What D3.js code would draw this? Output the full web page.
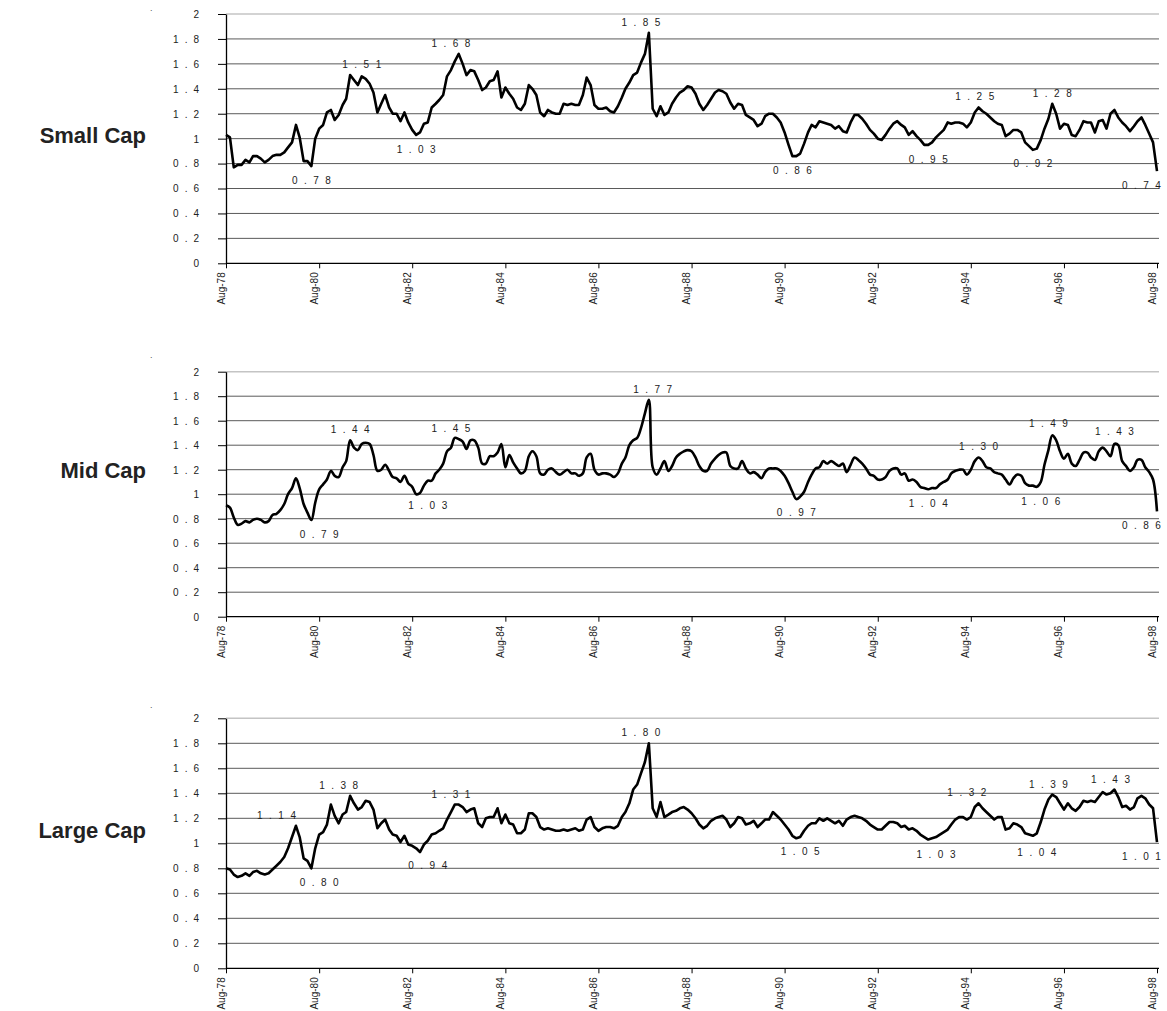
<!DOCTYPE html>
<html><head><meta charset="utf-8">
<script src="https://cdn.jsdelivr.net/npm/d3@7"></script>
<style>body{margin:0;background:#fff}svg{display:block}</style>
</head><body>
<svg id="c" width="1167" height="1011"></svg>
<script>
// ---- DATA (monthly, Aug-78 .. Aug-98) ----
const smallCap = [
1.03,1.01,0.77,0.79,0.79,0.83,0.81,0.86,0.86,0.84,0.81,0.83,
0.86,0.87,0.87,0.89,0.93,0.97,1.11,1.01,0.82,0.82,0.78,1.00,
1.08,1.11,1.21,1.23,1.15,1.19,1.27,1.32,1.51,1.47,1.43,1.50,
1.48,1.44,1.37,1.21,1.28,1.35,1.25,1.20,1.20,1.14,1.21,1.13,
1.07,1.03,1.05,1.12,1.13,1.25,1.28,1.31,1.35,1.50,1.55,1.62,
1.68,1.60,1.51,1.55,1.54,1.47,1.39,1.41,1.46,1.47,1.54,1.33,
1.41,1.36,1.32,1.25,1.23,1.28,1.43,1.40,1.35,1.21,1.18,1.23,
1.21,1.20,1.20,1.28,1.27,1.28,1.27,1.27,1.35,1.49,1.43,1.27,
1.24,1.24,1.25,1.22,1.21,1.26,1.33,1.40,1.45,1.51,1.53,1.61,
1.68,1.85,1.24,1.18,1.26,1.19,1.21,1.28,1.33,1.37,1.39,1.42,
1.41,1.36,1.28,1.23,1.27,1.32,1.37,1.39,1.38,1.36,1.29,1.24,
1.28,1.27,1.19,1.17,1.15,1.10,1.12,1.18,1.20,1.20,1.17,1.13,
1.05,0.95,0.86,0.86,0.88,0.96,1.05,1.11,1.09,1.14,1.13,1.12,
1.11,1.08,1.10,1.06,1.05,1.13,1.19,1.19,1.16,1.12,1.07,1.04,
1.00,0.99,1.03,1.08,1.12,1.14,1.11,1.09,1.03,1.06,1.02,0.99,
0.95,0.95,0.97,1.01,1.04,1.07,1.13,1.12,1.13,1.13,1.12,1.09,
1.13,1.21,1.25,1.22,1.20,1.17,1.14,1.12,1.11,1.02,1.04,1.07,
1.07,1.05,0.97,0.94,0.91,0.92,0.99,1.08,1.16,1.28,1.20,1.08,
1.12,1.11,1.03,1.02,1.07,1.14,1.13,1.13,1.05,1.14,1.15,1.08,
1.20,1.23,1.17,1.13,1.10,1.06,1.10,1.14,1.17,1.11,1.04,0.97,
0.74];
const midCap = [
0.91,0.89,0.81,0.75,0.76,0.78,0.77,0.79,0.80,0.79,0.77,0.78,
0.83,0.84,0.87,0.92,1.00,1.05,1.13,1.05,0.92,0.85,0.79,0.93,
1.04,1.08,1.12,1.19,1.15,1.14,1.22,1.27,1.44,1.38,1.36,1.41,
1.42,1.41,1.32,1.19,1.20,1.24,1.19,1.14,1.13,1.10,1.15,1.09,
1.06,1.00,1.01,1.07,1.11,1.11,1.17,1.20,1.25,1.35,1.38,1.46,
1.45,1.43,1.37,1.44,1.44,1.38,1.25,1.25,1.31,1.31,1.34,1.41,
1.22,1.32,1.26,1.21,1.17,1.19,1.31,1.35,1.31,1.17,1.16,1.20,
1.21,1.18,1.16,1.18,1.20,1.17,1.17,1.15,1.17,1.30,1.33,1.20,
1.16,1.17,1.17,1.16,1.14,1.17,1.25,1.30,1.40,1.44,1.46,1.54,
1.66,1.77,1.22,1.16,1.21,1.27,1.19,1.23,1.30,1.33,1.35,1.36,
1.35,1.30,1.23,1.19,1.19,1.25,1.29,1.32,1.34,1.34,1.23,1.21,
1.21,1.27,1.21,1.17,1.18,1.16,1.13,1.18,1.21,1.21,1.21,1.19,
1.15,1.09,1.02,0.96,0.98,1.02,1.10,1.16,1.21,1.22,1.27,1.25,
1.27,1.25,1.23,1.25,1.18,1.24,1.30,1.28,1.25,1.21,1.16,1.15,
1.12,1.12,1.14,1.19,1.21,1.21,1.16,1.17,1.11,1.12,1.10,1.06,
1.05,1.04,1.05,1.05,1.08,1.10,1.12,1.17,1.19,1.20,1.20,1.16,
1.20,1.27,1.30,1.27,1.22,1.21,1.18,1.17,1.16,1.12,1.08,1.13,
1.16,1.15,1.09,1.07,1.07,1.06,1.10,1.24,1.36,1.48,1.44,1.35,
1.29,1.33,1.25,1.23,1.28,1.34,1.34,1.30,1.28,1.35,1.38,1.35,
1.31,1.41,1.40,1.27,1.23,1.19,1.22,1.28,1.28,1.22,1.18,1.12,
0.86];
const largeCap = [
0.80,0.79,0.75,0.73,0.74,0.76,0.74,0.77,0.78,0.76,0.75,0.76,
0.79,0.82,0.85,0.89,0.96,1.05,1.14,1.05,0.88,0.86,0.80,0.96,
1.07,1.09,1.15,1.31,1.22,1.16,1.23,1.25,1.38,1.32,1.27,1.29,
1.34,1.33,1.27,1.12,1.16,1.19,1.11,1.07,1.06,1.01,1.06,0.99,
0.98,0.96,0.93,0.99,1.02,1.07,1.08,1.10,1.12,1.19,1.25,1.31,
1.31,1.29,1.25,1.27,1.28,1.16,1.13,1.20,1.21,1.21,1.28,1.16,
1.23,1.16,1.15,1.08,1.08,1.11,1.24,1.24,1.21,1.13,1.11,1.12,
1.11,1.10,1.10,1.11,1.10,1.11,1.12,1.10,1.11,1.19,1.21,1.13,
1.10,1.12,1.13,1.13,1.12,1.14,1.21,1.25,1.32,1.43,1.47,1.56,
1.65,1.80,1.28,1.21,1.33,1.21,1.23,1.25,1.26,1.28,1.29,1.27,
1.24,1.20,1.15,1.12,1.14,1.18,1.20,1.21,1.22,1.19,1.13,1.16,
1.21,1.20,1.15,1.16,1.18,1.13,1.16,1.19,1.19,1.25,1.22,1.19,
1.15,1.11,1.06,1.04,1.05,1.10,1.14,1.16,1.16,1.20,1.18,1.20,
1.18,1.16,1.18,1.14,1.19,1.21,1.22,1.21,1.20,1.18,1.15,1.13,
1.11,1.11,1.14,1.17,1.17,1.16,1.13,1.14,1.11,1.12,1.10,1.07,
1.05,1.03,1.04,1.05,1.07,1.09,1.11,1.15,1.19,1.21,1.21,1.19,
1.21,1.29,1.32,1.28,1.25,1.22,1.19,1.21,1.21,1.11,1.12,1.16,
1.15,1.13,1.08,1.07,1.06,1.08,1.17,1.27,1.35,1.39,1.37,1.32,
1.27,1.32,1.28,1.26,1.29,1.34,1.33,1.34,1.33,1.37,1.41,1.39,
1.40,1.43,1.37,1.29,1.30,1.27,1.29,1.36,1.38,1.36,1.31,1.28,
1.01];

const yTicks = [0,0.2,0.4,0.6,0.8,1,1.2,1.4,1.6,1.8,2];
const xTickLabels = ["Aug-78","Aug-80","Aug-82","Aug-84","Aug-86","Aug-88","Aug-90","Aug-92","Aug-94","Aug-96","Aug-98"];
const seriesNames = ["Small Cap","Mid Cap","Large Cap"];

// data labels: [month, value, side]
const smallLabels = [
["1980-06",0.78,"below"],["1981-07",1.51,"above"],["1982-09",1.03,"below"],["1983-06",1.68,"above"],
["1987-07",1.85,"above"],["1990-10",0.86,"below"],["1993-09",0.95,"below"],["1994-09",1.25,"above"],
["1995-12",0.92,"below"],["1996-05",1.28,"above"],["1998-04",0.74,"below"]];
const midLabels = [
["1980-08",0.79,"below"],["1981-04",1.44,"above"],["1982-12",1.03,"below"],["1983-06",1.45,"above"],
["1987-10",1.77,"above"],["1990-11",0.97,"below"],["1993-09",1.04,"below"],["1994-10",1.30,"above"],
["1996-02",1.06,"below"],["1996-04",1.49,"above"],["1997-09",1.43,"above"],["1998-04",0.86,"below"]];
const largeLabels = [
["1979-09",1.14,"above"],["1980-08",0.80,"below"],["1981-01",1.38,"above"],["1982-12",0.94,"below"],
["1983-06",1.31,"above"],["1987-07",1.80,"above"],["1990-12",1.05,"below"],["1993-11",1.03,"below"],
["1994-07",1.32,"above"],["1996-01",1.04,"below"],["1996-04",1.39,"above"],["1997-08",1.43,"above"],
["1998-04",1.01,"below"]];

// ---- LAYOUT ----
const svg = d3.select("#c");
const FONT = "'Liberation Sans', Arial, Helvetica, sans-serif";
const parseM = d3.timeParse("%Y-%m");
const parseL = d3.timeParse("%b-%y");
const months = d3.timeMonth.range(new Date(1978,7,1), new Date(1998,8,1));
const x = d3.scaleTime().domain([new Date(1978,7,1), new Date(1998,7,1)]).range([226,1157]);
const plotRight = 1159;

const panels = [
  {name:seriesNames[0], data:smallCap, labels:smallLabels, top:14,    bottom:263.3, nameY:142.5, dotY:11,  curve:d3.curveLinear},
  {name:seriesNames[1], data:midCap,   labels:midLabels,   top:371.7, bottom:616.7, nameY:478,   dotY:358, curve:d3.curveCatmullRom.alpha(0.5)},
  {name:seriesNames[2], data:largeCap, labels:largeLabels, top:718.3, bottom:968.3, nameY:838,   dotY:708, curve:d3.curveLinear}
];

panels.forEach((p,pi) => {
  const y = d3.scaleLinear().domain([0,2]).range([p.bottom, p.top]);
  const g = svg.append("g");

  // stray dot mark at top-left
  g.append("text").attr("x",150).attr("y",p.dotY).attr("font-family",FONT)
    .attr("font-size",9).attr("fill","#555").text(".");

  // gridlines
  g.selectAll("line.grid").data(yTicks.filter(t=>t>0)).join("line")
    .attr("x1",x.range()[0]).attr("x2",plotRight)
    .attr("y1",d=>y(d)).attr("y2",d=>y(d))
    .attr("stroke",d=>d===2?"#c4c4c4":"#5a5a5a")
    .attr("stroke-width",d=>d===2?1.6:1);

  // y axis
  const ya = g.append("g").attr("transform",`translate(${x.range()[0]},0)`)
    .call(d3.axisLeft(y).tickValues(yTicks).tickSize(8).tickSizeOuter(0).tickFormat(d3.format("")));
  ya.select(".domain").attr("stroke","#000").attr("stroke-width",1.3);
  ya.selectAll(".tick line").attr("stroke","#000");
  ya.selectAll(".tick text").attr("font-family",FONT).attr("font-size",10).attr("fill","#222")
    .attr("letter-spacing","6px").attr("x",-21).attr("dy","0.34em");

  // x axis
  const xa = g.append("g").attr("transform",`translate(0,${p.bottom})`)
    .call(d3.axisBottom(x).tickValues(xTickLabels.map(parseL)).tickSize(5).tickSizeOuter(0)
      .tickFormat(d3.timeFormat("%b-%y")));
  xa.select(".domain").remove();
  xa.selectAll(".tick line").attr("stroke","#000");
  xa.selectAll(".tick text").attr("font-family",FONT).attr("font-size",10).attr("fill","#222")
    .attr("transform","rotate(-90)").attr("text-anchor","end")
    .attr("x",-9).attr("y",-2).attr("dy",0);
  g.append("line").attr("x1",x.range()[0]).attr("x2",plotRight)
    .attr("y1",p.bottom).attr("y2",p.bottom).attr("stroke","#000").attr("stroke-width",1.3);

  // line
  const line = d3.line().x((d,i)=>x(months[i])).y(d=>y(d)).curve(p.curve);
  g.append("path").datum(p.data).attr("d",line).attr("fill","none")
    .attr("stroke","#000").attr("stroke-width",2.6).attr("stroke-linejoin","round");

  // data labels
  const L = 6.5;
  g.selectAll("text.dl").data(p.labels).join("text").attr("class","dl")
    .attr("x",d=>x(parseM(d[0]))+L/2)
    .attr("y",d=>y(d[1]) + (d[2]==="above"?-7:18))
    .attr("text-anchor","middle").attr("font-family",FONT).attr("font-size",10)
    .attr("letter-spacing",L+"px").attr("fill","#222")
    .text(d=>d[1].toFixed(2));

  // series name
  g.append("text").attr("x",146).attr("y",p.nameY).attr("text-anchor","end")
    .attr("font-family",FONT).attr("font-weight","bold").attr("font-size",22).attr("fill","#222")
    .text(p.name);
});
</script>
</body></html>
